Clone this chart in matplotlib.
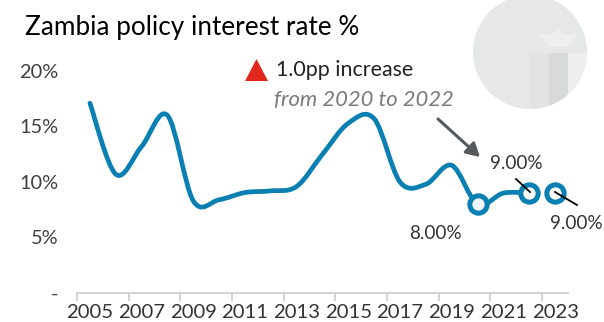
import numpy as np
import matplotlib
matplotlib.use("Agg")
import matplotlib.pyplot as plt
from matplotlib.path import Path
from matplotlib.patches import PathPatch, Circle, Rectangle, Polygon

plt.rcParams['font.family'] = ['Lato', 'DejaVu Sans']

years = [2005, 2006, 2007, 2008, 2009, 2010, 2011, 2012, 2013, 2014,
         2015, 2016, 2017, 2018, 2019, 2020, 2021, 2022]
rates = [17.1, 10.7, 13.2, 16.0, 8.3, 8.4, 9.05, 9.2, 9.6, 12.5,
         15.3, 15.7, 10.0, 9.8, 11.5, 8.0, 9.0, 9.0]
ring_years = [2020, 2022, 2023]
ring_rates = [8.0, 9.0, 9.0]
ring_fills = ['#eef6fb', 'white', 'white']
tick_years = list(range(2005, 2024, 2))
y_ticks = [0, 5, 10, 15, 20]
y_labels = ['-', '5%', '10%', '15%', '20%']

BLUE = '#0a7fb2'
W, H = 604, 322


def smooth_path(xs, ys):
    # same kind of bezier spline a spreadsheet uses for smoothed lines
    pts = np.column_stack([xs, ys])
    verts = [pts[0]]
    codes = [Path.MOVETO]
    for i in range(len(pts) - 1):
        p0 = pts[max(i - 1, 0)]
        p1 = pts[i]
        p2 = pts[i + 1]
        p3 = pts[min(i + 2, len(pts) - 1)]
        verts += [p1 + (p2 - p0) / 6, p2 - (p3 - p1) / 6, p2]
        codes += [Path.CURVE4] * 3
    return Path(verts, codes)


fig = plt.figure(figsize=(W / 100, H / 100), dpi=100, facecolor='white')

# overlay in pixel coordinates for the badge and the callouts
bg = fig.add_axes([0, 0, 1, 1], zorder=0)
bg.set_xlim(0, W)
bg.set_ylim(H, 0)
bg.axis('off')

disc = Circle((530, 52), 57, fc='#e6e7e7', ec='none')
bg.add_patch(disc)
for x0, width, col in [(530, 19, '#e1e2e2'), (549, 19, '#d8d9d9'), (568, 19, '#eeeeee')]:
    r = Rectangle((x0, 53), width, 60, fc=col, ec='none')
    bg.add_patch(r)
    r.set_clip_path(disc)
bg.add_patch(Polygon([(538, 34), (552, 34), (558, 29), (564, 34), (578, 34),
                      (568, 47), (549, 47)], fc='#eeeeee', ec='none'))

ax = fig.add_axes([77 / W, (H - 293) / H, (568 - 77) / W, (293 - 71) / H], zorder=1)
ax.patch.set_alpha(0)
ax.set_xlim(2004.5, 2023.5)
ax.set_ylim(0, 20)
for s in ['top', 'right', 'left']:
    ax.spines[s].set_visible(False)
ax.spines['bottom'].set_color('#cfcfcf')
ax.spines['bottom'].set_linewidth(1.3)

ax.add_patch(PathPatch(smooth_path(years, rates), fc='none', ec=BLUE, lw=3.4,
                       capstyle='round', clip_on=False))
for yr, val, fill in zip(ring_years, ring_rates, ring_fills):
    ax.plot(yr, val, 'o', ms=12.5, mfc=fill, mec=BLUE, mew=3.6, clip_on=False, zorder=3)

# ticks sit on the category boundaries, labels in the middle of each category
ax.set_xticks([y - 0.5 for y in tick_years])
ax.tick_params(axis='x', length=6, width=1.3, color='#cfcfcf', labelbottom=False, direction='out')
for y in tick_years:
    ax.text(y, -1.02, str(y), ha='center', va='top', fontsize=14.6, color='#333333')
ax.set_yticks(y_ticks)
ax.set_yticklabels(y_labels, fontsize=14.4, color='#404040')
ax.tick_params(axis='y', length=0, pad=13.5)

fig.text(25 / W, 1 - 28 / H, 'Zambia policy interest rate %', fontsize=18.8,
         color='black', va='center', ha='left')

bg.add_patch(Polygon([(245, 81), (268, 81), (256.5, 59)], fc='#e0281c', ec='none'))
bg.text(276, 70, '1.0pp increase', fontsize=15.4, color='#222222', va='center')
bg.text(274, 100, 'from 2020 to 2022', fontsize=15.8, style='italic', color='#7a7a7a', va='center')
bg.annotate('', xy=(480, 157), xytext=(438, 119),
            arrowprops=dict(arrowstyle='-|>,head_width=0.45,head_length=0.8', lw=2.2,
                            color='#55585c', shrinkA=0, shrinkB=0))

ov = fig.add_axes([0, 0, 1, 1], zorder=2)
ov.set_xlim(0, W)
ov.set_ylim(H, 0)
ov.axis('off')
ov.plot([516, 530], [179, 192], color='black', lw=1.3)
ov.plot([555, 577], [192, 205], color='black', lw=1.3)
ov.text(516, 163, '9.00%', fontsize=13.6, color='#333333', ha='center', va='center')
ov.text(576, 223, '9.00%', fontsize=13.6, color='#333333', ha='center', va='center')
ov.text(435, 233, '8.00%', fontsize=13.6, color='#333333', ha='center', va='center')

fig.savefig('out.png', dpi=100)
